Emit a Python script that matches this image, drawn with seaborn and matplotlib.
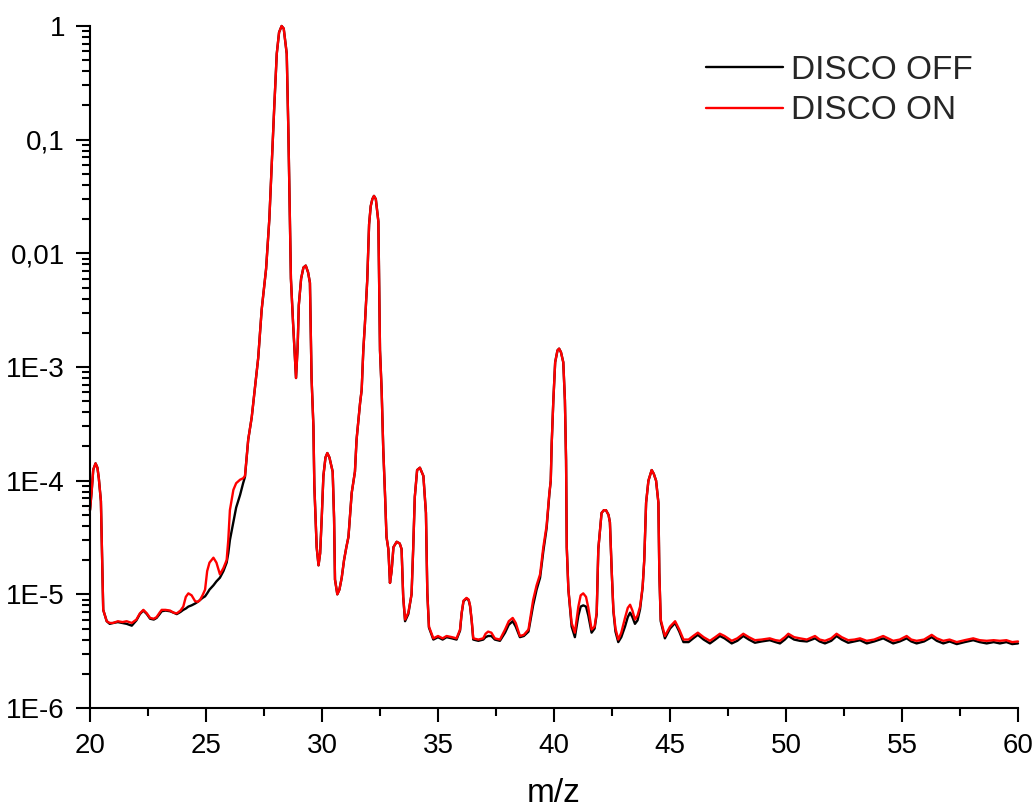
import numpy as np
import pandas as pd
import matplotlib
matplotlib.use("Agg")
import matplotlib.pyplot as plt
from matplotlib.ticker import LogLocator, NullFormatter, MultipleLocator
import seaborn as sns

# ---------------- data ----------------
mz = [
    20.00, 20.07, 20.14, 20.24, 20.32, 20.38, 20.47, 20.53, 20.57, 20.72,
    20.85, 21.00, 21.20, 21.40, 21.58, 21.80, 22.00, 22.15, 22.30, 22.45,
    22.59, 22.75, 22.87, 23.00, 23.09, 23.25, 23.45, 23.60, 23.74, 23.90,
    24.02, 24.13, 24.24, 24.38, 24.53, 24.65, 24.74, 24.85, 24.96, 25.05,
    25.15, 25.32, 25.45, 25.60, 25.75, 25.89, 25.96, 26.03, 26.18, 26.30,
    26.47, 26.60, 26.68, 26.82, 26.97, 27.07, 27.25, 27.40, 27.59, 27.73,
    27.83, 27.94, 28.05, 28.15, 28.26, 28.35, 28.48, 28.55, 28.62, 28.66,
    28.75, 28.88, 28.95, 29.00, 29.10, 29.20, 29.30, 29.40, 29.48, 29.55,
    29.63, 29.67, 29.77, 29.85, 29.92, 29.99, 30.06, 30.15, 30.23, 30.32,
    30.46, 30.52, 30.56, 30.66, 30.75, 30.85, 30.95, 31.05, 31.14, 31.28,
    31.42, 31.49, 31.64, 31.71, 31.78, 31.85, 31.95, 32.03, 32.10, 32.17,
    32.24, 32.32, 32.43, 32.50, 32.57, 32.64, 32.72, 32.78, 32.86, 32.93,
    33.00, 33.08, 33.22, 33.35, 33.43, 33.50, 33.58, 33.72, 33.86, 33.93,
    34.00, 34.10, 34.22, 34.37, 34.48, 34.54, 34.61, 34.80, 35.00, 35.20,
    35.37, 35.60, 35.80, 35.95, 36.02, 36.10, 36.23, 36.32, 36.38, 36.45,
    36.52, 36.74, 36.95, 37.05, 37.16, 37.30, 37.45, 37.67, 37.89, 38.05,
    38.22, 38.35, 38.53, 38.70, 38.90, 39.10, 39.25, 39.40, 39.54, 39.68,
    39.80, 39.86, 39.90, 39.97, 40.05, 40.15, 40.22, 40.30, 40.40, 40.47,
    40.52, 40.55, 40.62, 40.76, 40.90, 41.05, 41.15, 41.26, 41.38, 41.48,
    41.62, 41.75, 41.84, 41.91, 42.05, 42.15, 42.24, 42.35, 42.41, 42.49,
    42.56, 42.65, 42.77, 42.90, 43.06, 43.18, 43.28, 43.38, 43.49, 43.60,
    43.71, 43.82, 43.89, 43.97, 44.07, 44.21, 44.30, 44.40, 44.50, 44.54,
    44.60, 44.78, 45.00, 45.22, 45.40, 45.58, 45.80, 46.00, 46.20, 46.45,
    46.72, 46.95, 47.15, 47.35, 47.66, 47.90, 48.16, 48.40, 48.66, 48.95,
    49.30, 49.55, 49.74, 49.95, 50.10, 50.35, 50.60, 50.90, 51.25, 51.45,
    51.68, 51.95, 52.18, 52.40, 52.68, 52.95, 53.19, 53.48, 53.80, 54.19,
    54.40, 54.62, 54.90, 55.20, 55.40, 55.63, 55.95, 56.28, 56.50, 56.78,
    57.05, 57.36, 57.70, 58.07, 58.35, 58.65, 58.95, 59.22, 59.50, 59.75,
    60.00,
]

disco_on = [
    5.5e-5, 8.0e-5, 1.25e-4, 1.42e-4, 1.30e-4, 1.05e-4, 6.6e-5, 1.65e-5, 7.3e-6, 5.8e-6,
    5.6e-6, 5.6e-6, 5.8e-6, 5.7e-6, 5.8e-6, 5.6e-6, 6.0e-6, 6.8e-6, 7.3e-6, 6.8e-6,
    6.2e-6, 6.1e-6, 6.3e-6, 6.9e-6, 7.3e-6, 7.3e-6, 7.2e-6, 6.9e-6, 6.8e-6, 7.2e-6,
    7.8e-6, 9.5e-6, 1.02e-5, 9.8e-6, 8.7e-6, 8.6e-6, 8.9e-6, 9.8e-6, 1.1e-5, 1.6e-5,
    1.9e-5, 2.1e-5, 1.9e-5, 1.5e-5, 1.7e-5, 2.0e-5, 3.0e-5, 5.5e-5, 8.3e-5, 9.5e-5,
    1.02e-4, 1.05e-4, 1.1e-4, 2.3e-4, 3.6e-4, 5.5e-4, 1.2e-3, 3.2e-3, 7.3e-3, 2.0e-2,
    5.9e-2, 0.19, 0.57, 0.88, 1.0, 0.95, 0.57, 0.12, 1.8e-2, 6.0e-3,
    2.5e-3, 8.0e-4, 1.5e-3, 3.5e-3, 6.0e-3, 7.5e-3, 7.8e-3, 6.8e-3, 5.5e-3, 8.0e-4,
    3.0e-4, 9.0e-5, 2.6e-5, 1.8e-5, 2.3e-5, 4.8e-5, 1.1e-4, 1.6e-4, 1.75e-4, 1.6e-4,
    1.2e-4, 4.7e-5, 1.35e-5, 1.0e-5, 1.1e-5, 1.4e-5, 2.0e-5, 2.6e-5, 3.2e-5, 7.8e-5,
    1.2e-4, 2.3e-4, 4.8e-4, 6.3e-4, 1.4e-3, 2.4e-3, 5.8e-3, 1.8e-2, 2.6e-2, 3.0e-2,
    3.2e-2, 3.0e-2, 1.9e-2, 1.4e-3, 6.3e-4, 1.9e-4, 7.2e-5, 3.2e-5, 2.5e-5, 1.26e-5,
    1.6e-5, 2.6e-5, 2.9e-5, 2.8e-5, 2.5e-5, 9.5e-6, 6.0e-6, 6.9e-6, 1.0e-5, 2.5e-5,
    7.2e-5, 1.24e-4, 1.3e-4, 1.1e-4, 5.2e-5, 1.03e-5, 5.2e-6, 4.1e-6, 4.3e-6, 4.1e-6,
    4.3e-6, 4.2e-6, 4.1e-6, 4.9e-6, 6.9e-6, 8.8e-6, 9.3e-6, 9.0e-6, 8.0e-6, 6.0e-6,
    4.1e-6, 4.0e-6, 4.1e-6, 4.5e-6, 4.7e-6, 4.6e-6, 4.1e-6, 4.0e-6, 4.9e-6, 5.8e-6,
    6.2e-6, 5.6e-6, 4.3e-6, 4.4e-6, 4.9e-6, 8.9e-6, 1.2e-5, 1.5e-5, 2.6e-5, 4.0e-5,
    7.8e-5, 1.0e-4, 2.1e-4, 5.0e-4, 1.1e-3, 1.4e-3, 1.45e-3, 1.35e-3, 1.1e-3, 5.1e-4,
    1.5e-4, 2.6e-5, 1.1e-5, 5.6e-6, 4.6e-6, 7.8e-6, 9.8e-6, 1.02e-5, 9.5e-6, 7.6e-6,
    4.9e-6, 5.2e-6, 6.9e-6, 2.5e-5, 5.2e-5, 5.5e-5, 5.5e-5, 5.0e-5, 4.3e-5, 1.55e-5,
    7.3e-6, 5.0e-6, 4.0e-6, 4.6e-6, 6.2e-6, 7.6e-6, 8.1e-6, 7.2e-6, 6.0e-6, 6.5e-6,
    7.8e-6, 1.17e-5, 2.0e-5, 6.4e-5, 1.0e-4, 1.24e-4, 1.15e-4, 1.0e-4, 6.4e-5, 1.55e-5,
    6.0e-6, 4.3e-6, 5.2e-6, 5.8e-6, 4.9e-6, 4.0e-6, 4.0e-6, 4.3e-6, 4.6e-6, 4.2e-6,
    3.9e-6, 4.2e-6, 4.5e-6, 4.3e-6, 3.9e-6, 4.1e-6, 4.5e-6, 4.2e-6, 3.95e-6, 4.0e-6,
    4.1e-6, 3.95e-6, 3.9e-6, 4.2e-6, 4.5e-6, 4.2e-6, 4.1e-6, 4.0e-6, 4.3e-6, 4.0e-6,
    3.9e-6, 4.1e-6, 4.5e-6, 4.2e-6, 3.95e-6, 4.0e-6, 4.1e-6, 3.9e-6, 4.0e-6, 4.3e-6,
    4.1e-6, 3.9e-6, 4.0e-6, 4.3e-6, 4.0e-6, 3.9e-6, 4.0e-6, 4.4e-6, 4.1e-6, 3.9e-6,
    4.0e-6, 3.8e-6, 3.95e-6, 4.1e-6, 3.95e-6, 3.9e-6, 3.95e-6, 3.9e-6, 3.95e-6, 3.8e-6,
    3.85e-6,
]

disco_off = [
    5.5e-5, 8.0e-5, 1.25e-4, 1.42e-4, 1.30e-4, 1.05e-4, 6.6e-5, 1.65e-5, 7.3e-6, 5.8e-6,
    5.5e-6, 5.6e-6, 5.7e-6, 5.6e-6, 5.5e-6, 5.3e-6, 5.9e-6, 6.7e-6, 7.2e-6, 6.7e-6,
    6.1e-6, 6.0e-6, 6.2e-6, 6.7e-6, 7.1e-6, 7.2e-6, 7.1e-6, 6.9e-6, 6.7e-6, 7.0e-6,
    7.3e-6, 7.5e-6, 7.8e-6, 8.0e-6, 8.3e-6, 8.6e-6, 8.9e-6, 9.3e-6, 9.6e-6, 1.02e-5,
    1.1e-5, 1.2e-5, 1.3e-5, 1.4e-5, 1.6e-5, 1.9e-5, 2.3e-5, 3.0e-5, 4.3e-5, 5.8e-5,
    7.5e-5, 9.5e-5, 1.08e-4, 2.3e-4, 3.6e-4, 5.5e-4, 1.2e-3, 3.2e-3, 7.3e-3, 2.0e-2,
    5.9e-2, 0.19, 0.57, 0.88, 1.0, 0.95, 0.57, 0.12, 1.8e-2, 6.0e-3,
    2.5e-3, 8.0e-4, 1.5e-3, 3.5e-3, 6.0e-3, 7.5e-3, 7.8e-3, 6.8e-3, 5.5e-3, 8.0e-4,
    3.0e-4, 9.0e-5, 2.6e-5, 1.8e-5, 2.3e-5, 4.8e-5, 1.1e-4, 1.6e-4, 1.75e-4, 1.6e-4,
    1.2e-4, 4.7e-5, 1.35e-5, 1.0e-5, 1.1e-5, 1.4e-5, 2.0e-5, 2.6e-5, 3.2e-5, 7.8e-5,
    1.2e-4, 2.3e-4, 4.8e-4, 6.3e-4, 1.4e-3, 2.4e-3, 5.8e-3, 1.8e-2, 2.6e-2, 3.0e-2,
    3.2e-2, 3.0e-2, 1.9e-2, 1.4e-3, 6.3e-4, 1.9e-4, 7.2e-5, 3.2e-5, 2.5e-5, 1.26e-5,
    1.6e-5, 2.6e-5, 2.9e-5, 2.8e-5, 2.5e-5, 9.5e-6, 5.8e-6, 6.7e-6, 1.0e-5, 2.5e-5,
    7.2e-5, 1.24e-4, 1.3e-4, 1.1e-4, 5.2e-5, 1.03e-5, 5.1e-6, 4.0e-6, 4.2e-6, 4.0e-6,
    4.2e-6, 4.1e-6, 4.0e-6, 4.8e-6, 6.8e-6, 8.7e-6, 9.2e-6, 8.9e-6, 7.9e-6, 5.9e-6,
    4.0e-6, 3.9e-6, 4.0e-6, 4.2e-6, 4.3e-6, 4.3e-6, 4.0e-6, 3.9e-6, 4.6e-6, 5.4e-6,
    5.8e-6, 5.2e-6, 4.2e-6, 4.3e-6, 4.7e-6, 8.0e-6, 1.1e-5, 1.4e-5, 2.4e-5, 3.8e-5,
    7.6e-5, 1.0e-4, 2.1e-4, 5.0e-4, 1.1e-3, 1.4e-3, 1.45e-3, 1.35e-3, 1.1e-3, 5.1e-4,
    1.5e-4, 2.6e-5, 1.1e-5, 5.2e-6, 4.2e-6, 6.5e-6, 7.8e-6, 8.0e-6, 7.8e-6, 6.5e-6,
    4.6e-6, 5.0e-6, 6.7e-6, 2.5e-5, 5.2e-5, 5.5e-5, 5.5e-5, 5.0e-5, 4.3e-5, 1.55e-5,
    7.1e-6, 4.7e-6, 3.8e-6, 4.2e-6, 5.2e-6, 6.3e-6, 6.9e-6, 6.3e-6, 5.5e-6, 5.9e-6,
    7.4e-6, 1.15e-5, 2.0e-5, 6.4e-5, 1.0e-4, 1.24e-4, 1.15e-4, 1.0e-4, 6.4e-5, 1.55e-5,
    5.8e-6, 4.1e-6, 5.0e-6, 5.6e-6, 4.7e-6, 3.8e-6, 3.8e-6, 4.1e-6, 4.4e-6, 4.0e-6,
    3.7e-6, 4.0e-6, 4.3e-6, 4.1e-6, 3.7e-6, 3.9e-6, 4.3e-6, 4.0e-6, 3.75e-6, 3.85e-6,
    3.95e-6, 3.8e-6, 3.7e-6, 4.0e-6, 4.3e-6, 4.0e-6, 3.9e-6, 3.85e-6, 4.1e-6, 3.85e-6,
    3.7e-6, 3.9e-6, 4.3e-6, 4.0e-6, 3.75e-6, 3.85e-6, 3.95e-6, 3.7e-6, 3.85e-6, 4.1e-6,
    3.9e-6, 3.7e-6, 3.85e-6, 4.1e-6, 3.85e-6, 3.7e-6, 3.85e-6, 4.2e-6, 3.9e-6, 3.7e-6,
    3.85e-6, 3.65e-6, 3.8e-6, 3.95e-6, 3.8e-6, 3.7e-6, 3.8e-6, 3.7e-6, 3.8e-6, 3.65e-6,
    3.7e-6,
]

series_names = ["DISCO OFF", "DISCO ON"]
series_colors = ["black", "red"]

y_tick_values = [1e-6, 1e-5, 1e-4, 1e-3, 1e-2, 1e-1, 1.0]
y_tick_labels = ["1E-6", "1E-5", "1E-4", "1E-3", "0,01", "0,1", "1"]
x_tick_values = [20, 25, 30, 35, 40, 45, 50, 55, 60]
x_label = "m/z"

assert len(mz) == len(disco_on) == len(disco_off)

# ---------------- figure ----------------
sns.set_theme(style="ticks")
plt.rcParams["font.family"] = ["Liberation Sans", "DejaVu Sans"]

n = len(mz)
df = pd.DataFrame({
    "mz": mz + mz,
    "intensity": disco_off + disco_on,
    "series": [series_names[0]] * n + [series_names[1]] * n,
})

fig = plt.figure(figsize=(10.34, 8.09), dpi=100)
ax = fig.add_axes([90 / 1034, 1 - 708 / 809, (1018 - 90) / 1034, (708 - 26) / 809])

sns.lineplot(data=df, x="mz", y="intensity", hue="series",
             hue_order=series_names, palette=series_colors,
             estimator=None, sort=False, linewidth=1.7, ax=ax)
for ln in ax.lines:
    ln.set_clip_on(False)

ax.set_yscale("log")
ax.set_xlim(20, 60)
ax.set_ylim(1e-6, 1.0)

ax.set_yticks(y_tick_values)
ax.set_yticklabels(y_tick_labels)
ax.yaxis.set_minor_locator(LogLocator(base=10, subs=np.arange(2, 10)))
ax.yaxis.set_minor_formatter(NullFormatter())
ax.set_xticks(x_tick_values)
ax.set_xticklabels([str(v) for v in x_tick_values])
ax.xaxis.set_minor_locator(MultipleLocator(2.5))

for side in ["top", "right"]:
    ax.spines[side].set_visible(False)
for side in ["left", "bottom"]:
    ax.spines[side].set_linewidth(1.5)
    ax.spines[side].set_color("black")

ax.tick_params(axis="both", which="major", direction="out", length=10, width=1.5,
               color="black", labelsize=20, labelcolor="black")
ax.tick_params(axis="both", which="minor", direction="out", length=6, width=1.5,
               color="black")
ax.tick_params(axis="y", which="major", pad=8)
ax.tick_params(axis="x", which="major", pad=8)

ax.set_xlabel(x_label, fontsize=24, color="black", labelpad=14)
ax.set_ylabel("")

ax.legend(handles=ax.get_legend_handles_labels()[0],
          labels=series_names, frameon=False, fontsize=24,
          loc="upper left", bbox_to_anchor=(706 / 1034, 1 - 55 / 809),
          bbox_transform=fig.transFigure, borderpad=0, borderaxespad=0,
          handlelength=2.3, handletextpad=0.25, labelspacing=0.28)
for lh in ax.get_legend().get_lines():
    lh.set_linewidth(1.7)

fig.savefig("out.png", dpi=100)
